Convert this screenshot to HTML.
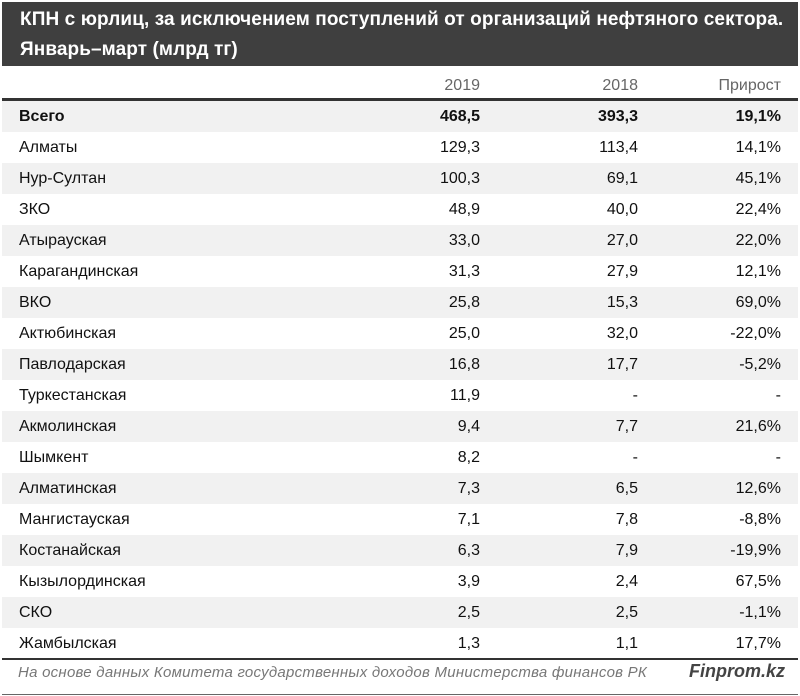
<!DOCTYPE html>
<html><head><meta charset="utf-8"><style>
body{margin:0;width:800px;height:696px;background:#fff;font-family:"Liberation Sans","DejaVu Sans",sans-serif;position:relative;overflow:hidden}
.hd{position:absolute;left:2px;top:2px;width:796px;height:64px;background:#3f3f3f;color:#fff;font-weight:bold;font-size:19px;line-height:30px;padding:3px 0 0 18px;box-sizing:border-box;letter-spacing:0.1px;white-space:nowrap}
.row{position:absolute;left:2px;width:796px;height:31px;font-size:16px;color:#111;line-height:31px}
.g{background:#f1f1f1}
.row span{position:absolute}
.n{left:17px}
.a{right:318px}.b{right:160px}.c{right:17px}
.th{color:#666}
.line{position:absolute;left:2px;width:796px;background:#333}
.ft{position:absolute;left:18px;top:664px;font-size:15px;letter-spacing:0.25px;font-style:italic;color:#777;white-space:nowrap}
.fk{position:absolute;right:15px;top:661px;font-size:18px;font-style:italic;font-weight:bold;color:#444}
</style></head><body>
<div class="hd">КПН с юрлиц, за исключением поступлений от организаций нефтяного сектора.<br>Январь–март (млрд тг)</div>
<div class="row th" style="top:70px"><span class="a">2019</span><span class="b">2018</span><span class="c">Прирост</span></div>
<div class="line" style="top:98px;height:3px"></div>
<div class="row g" style="top:101px;font-weight:bold"><span class="n">Всего</span><span class="a">468,5</span><span class="b">393,3</span><span class="c">19,1%</span></div>
<div class="row" style="top:132px"><span class="n">Алматы</span><span class="a">129,3</span><span class="b">113,4</span><span class="c">14,1%</span></div>
<div class="row g" style="top:163px"><span class="n">Нур-Султан</span><span class="a">100,3</span><span class="b">69,1</span><span class="c">45,1%</span></div>
<div class="row" style="top:194px"><span class="n">ЗКО</span><span class="a">48,9</span><span class="b">40,0</span><span class="c">22,4%</span></div>
<div class="row g" style="top:225px"><span class="n">Атырауская</span><span class="a">33,0</span><span class="b">27,0</span><span class="c">22,0%</span></div>
<div class="row" style="top:256px"><span class="n">Карагандинская</span><span class="a">31,3</span><span class="b">27,9</span><span class="c">12,1%</span></div>
<div class="row g" style="top:287px"><span class="n">ВКО</span><span class="a">25,8</span><span class="b">15,3</span><span class="c">69,0%</span></div>
<div class="row" style="top:318px"><span class="n">Актюбинская</span><span class="a">25,0</span><span class="b">32,0</span><span class="c">-22,0%</span></div>
<div class="row g" style="top:349px"><span class="n">Павлодарская</span><span class="a">16,8</span><span class="b">17,7</span><span class="c">-5,2%</span></div>
<div class="row" style="top:380px"><span class="n">Туркестанская</span><span class="a">11,9</span><span class="b">-</span><span class="c">-</span></div>
<div class="row g" style="top:411px"><span class="n">Акмолинская</span><span class="a">9,4</span><span class="b">7,7</span><span class="c">21,6%</span></div>
<div class="row" style="top:442px"><span class="n">Шымкент</span><span class="a">8,2</span><span class="b">-</span><span class="c">-</span></div>
<div class="row g" style="top:473px"><span class="n">Алматинская</span><span class="a">7,3</span><span class="b">6,5</span><span class="c">12,6%</span></div>
<div class="row" style="top:504px"><span class="n">Мангистауская</span><span class="a">7,1</span><span class="b">7,8</span><span class="c">-8,8%</span></div>
<div class="row g" style="top:535px"><span class="n">Костанайская</span><span class="a">6,3</span><span class="b">7,9</span><span class="c">-19,9%</span></div>
<div class="row" style="top:566px"><span class="n">Кызылординская</span><span class="a">3,9</span><span class="b">2,4</span><span class="c">67,5%</span></div>
<div class="row g" style="top:597px"><span class="n">СКО</span><span class="a">2,5</span><span class="b">2,5</span><span class="c">-1,1%</span></div>
<div class="row" style="top:628px"><span class="n">Жамбылская</span><span class="a">1,3</span><span class="b">1,1</span><span class="c">17,7%</span></div>
<div class="line" style="top:658px;height:2px"></div>
<div class="ft">На основе данных Комитета государственных доходов Министерства финансов РК</div>
<div class="fk">Finprom.kz</div>
<div class="line" style="top:694px;height:1px;background:#666"></div>
</body></html>
